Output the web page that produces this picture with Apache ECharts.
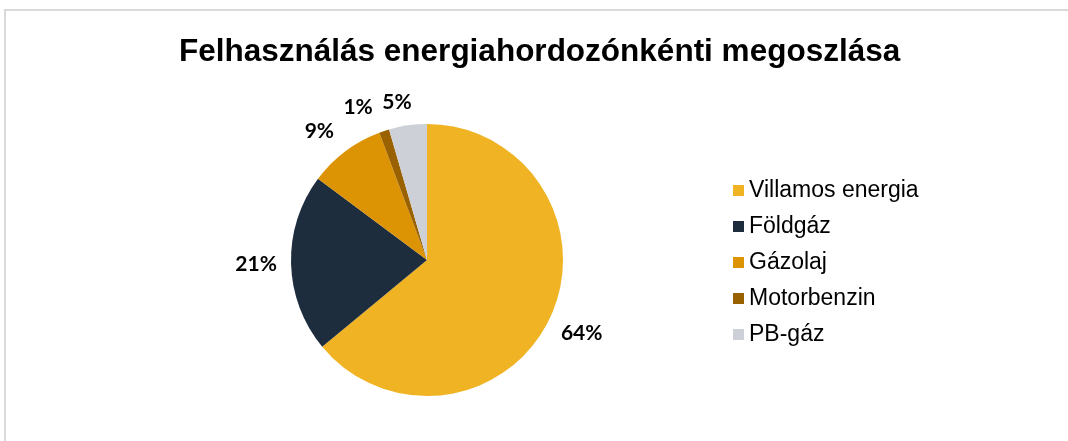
<!DOCTYPE html>
<html>
<head>
<meta charset="utf-8">
<script src="https://cdn.jsdelivr.net/npm/echarts@6/dist/echarts.min.js"></script>
<style>
  html, body { margin: 0; padding: 0; background: #fff; }
  #chart { width: 1068px; height: 441px; }
</style>
</head>
<body>
<div id="chart"></div>
<script>
var categories = ['Villamos energia', 'Földgáz', 'Gázolaj', 'Motorbenzin', 'PB-gáz'];
var values = [64.0, 21.2, 9.1, 1.2, 4.5];
var colors = ['#F0B323', '#1E2D3E', '#DC9405', '#996100', '#CDD0D6'];

// small label nudges for the crowded slices at the top (like Excel's best fit)
var labelNudge = { 'Gázolaj': [-5, 8], 'Motorbenzin': [-15, 10], 'PB-gáz': [-6, 12] };

var myChart = echarts.init(document.getElementById('chart'));

var pieData = categories.map(function (c, i) { return { name: c, value: values[i] }; });
var labelData = categories.map(function (c, i) {
  var d = { name: c, value: values[i] };
  if (labelNudge[c]) d.label = { offset: labelNudge[c] };
  return d;
});

var option = {
  backgroundColor: '#fff',
  animation: false,
  color: colors,
  title: {
    text: 'Felhasználás energiahordozónkénti megoszlása',
    left: 174,
    top: 31,
    textStyle: {
      fontFamily: 'Liberation Sans',
      fontWeight: 'bold',
      fontSize: 31.5,
      color: '#000'
    }
  },
  legend: {
    orient: 'vertical',
    left: 728,
    top: 174,
    itemWidth: 11,
    itemHeight: 11,
    itemGap: 13,
    icon: 'rect',
    data: categories,
    textStyle: {
      fontFamily: 'Liberation Sans',
      fontSize: 23,
      lineHeight: 23,
      color: '#000'
    }
  },
  graphic: [{
    type: 'rect',
    shape: { x: 5, y: 10, width: 1080, height: 460 },
    style: { fill: 'none', stroke: '#D9D9D9', lineWidth: 2 },
    silent: true
  }],
  series: [{
    type: 'pie',
    center: [427, 260],
    radius: 136,
    startAngle: 90,
    clockwise: true,
    data: pieData,
    itemStyle: { borderWidth: 0 },
    label: { show: false },
    labelLine: { show: false },
    emphasis: { disabled: true }
  }, {
    // invisible ring, only used to place the percent labels outside the pie
    type: 'pie',
    center: [427, 260],
    radius: [0, 336],
    startAngle: 90,
    clockwise: true,
    silent: true,
    z: 1,
    data: labelData,
    percentPrecision: 0,
    itemStyle: { color: 'rgba(0,0,0,0)', borderWidth: 0 },
    label: {
      show: true,
      position: 'inside',
      formatter: '{d}%',
      fontFamily: 'Lato',
      fontWeight: 'bold',
      fontSize: 21,
      color: '#000'
    },
    labelLine: { show: false },
    emphasis: { disabled: true }
  }]
};
myChart.setOption(option);
</script>
</body>
</html>
